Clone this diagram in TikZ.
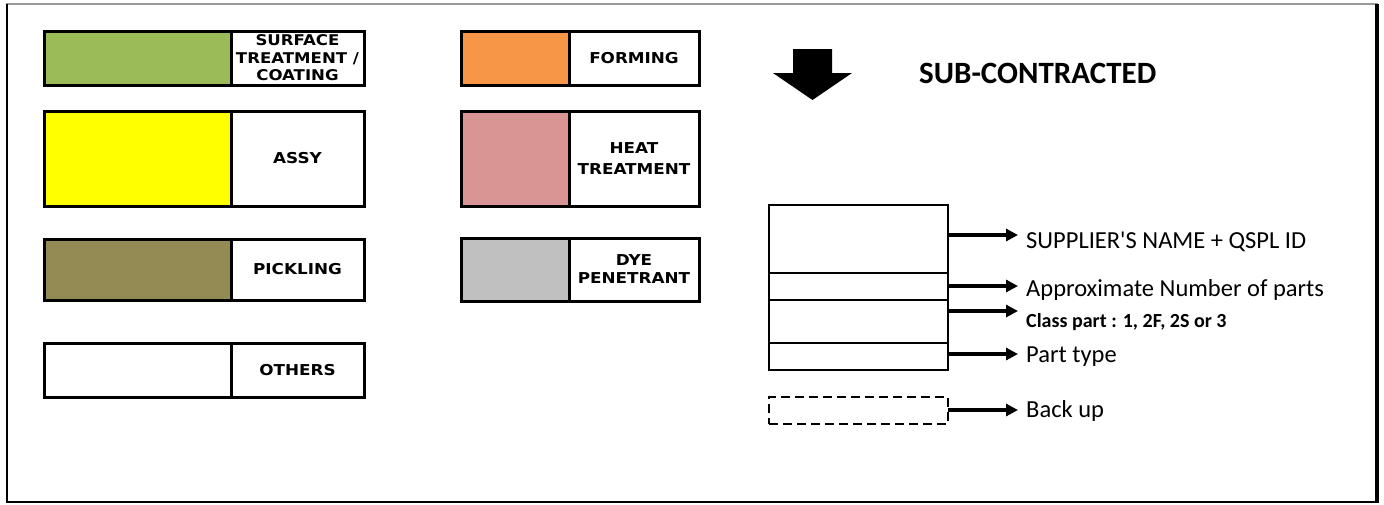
\documentclass[tikz,border=0pt]{standalone}
\usepackage{fontspec}
\setmainfont{Carlito}
\newfontfamily\legfont[FakeStretch=1.12]{DejaVu Sans}
\usetikzlibrary{arrows.meta,calc}
\definecolor{cgreen}{HTML}{9BBB59}
\definecolor{cyellow}{HTML}{FFFF00}
\definecolor{corange}{HTML}{F79646}
\definecolor{cpink}{HTML}{D99594}
\definecolor{colive}{HTML}{948A54}
\definecolor{cgray}{HTML}{C0C0C0}
\tikzset{
  swatch/.style={draw=black,line width=3pt,anchor=north west,inner sep=0pt,outer sep=0pt},
  legend/.style={draw=black,line width=3pt,anchor=north west,inner sep=0pt,outer sep=0pt,
    align=center,font=\legfont\bfseries\fontsize{15}{18}\selectfont},
  row/.style={draw=black,line width=2.8pt,anchor=north west,inner sep=0pt,outer sep=0pt,minimum width=179pt},
  conn/.style={line width=3.2pt,-{Triangle[length=12pt,width=12pt]}},
  lbl/.style={anchor=west,inner sep=0pt,font=\fontsize{24.5}{28}\selectfont},
}
\begin{document}
\begin{tikzpicture}[x=1pt,y=-1pt]
\useasboundingbox (0,0) rectangle (1384,504);
% frame
\draw[gray!80,line width=1.5pt] (6,4) -- (1378,4);
\draw[black,line width=2pt] (7,4) -- (7,502) -- (1377,502);
\draw[black,line width=3.5pt] (1377,4) -- (1377,503);
% left column
\node[swatch,fill=cgreen,minimum width=187pt,minimum height=54pt] (s1) at (44,31) {};
\node[legend,minimum width=133pt,minimum height=54pt,font=\legfont\bfseries\fontsize{14.8}{17.5}\selectfont] (l1) at (231,31) {SURFACE\\TREATMENT /\\COATING};
\node[swatch,fill=cyellow,minimum width=187pt,minimum height=95pt] (s2) at (44,111) {};
\node[legend,minimum width=133pt,minimum height=95pt] (l2) at (231,111) {ASSY};
\node[swatch,fill=colive,minimum width=187pt,minimum height=61pt] (s3) at (44,239) {};
\node[legend,minimum width=133pt,minimum height=61pt] (l3) at (231,239) {PICKLING};
\node[swatch,fill=white,minimum width=187pt,minimum height=54pt] (s4) at (44,343) {};
\node[legend,minimum width=133pt,minimum height=54pt] (l4) at (231,343) {OTHERS};
% middle column
\node[swatch,fill=corange,minimum width=108pt,minimum height=54pt] (s5) at (461,31) {};
\node[legend,minimum width=130pt,minimum height=54pt] (l5) at (569,31) {FORMING};
\node[swatch,fill=cpink,minimum width=108pt,minimum height=95pt] (s6) at (461,111) {};
\node[legend,minimum width=130pt,minimum height=95pt,font=\legfont\bfseries\fontsize{15}{21}\selectfont] (l6) at (569,111) {HEAT\\TREATMENT};
\node[swatch,fill=cgray,minimum width=108pt,minimum height=63pt] (s7) at (461,238) {};
\node[legend,minimum width=130pt,minimum height=63pt,font=\legfont\bfseries\fontsize{15}{18}\selectfont] (l7) at (569,238) {DYE\\PENETRANT};
% big arrow and title
\fill[black] (793,49) -- (832,49) -- (832,73) -- (852,73) -- (812.5,100) -- (773,73) -- (793,73) -- cycle;
\node[anchor=west,inner sep=0pt,font=\bfseries\fontsize{31}{34}\selectfont] (title) at (919,73) {SUB-CONTRACTED};
% stack
\node[row,minimum height=68pt] (r1) at (769,205) {};
\node[row,minimum height=27pt] (r2) at (769,273) {};
\node[row,minimum height=43pt] (r3) at (769,300) {};
\node[row,minimum height=27pt] (r4) at (769,343) {};
\node[row,dashed,dash pattern=on 9pt off 5pt,minimum height=27pt] (r5) at (769,397) {};
% arrow ends
\coordinate (t1) at (1018,235);
\coordinate (t2) at (1018,286);
\coordinate (t3) at (1018,311);
\coordinate (t4) at (1018,354);
\coordinate (t5) at (1018,410);
\draw[conn] (r1.east |- t1) -- (t1);
\draw[conn] (r2.east |- t2) -- (t2);
\draw[conn] (r3.east |- t3) -- (t3);
\draw[conn] (r4.east |- t4) -- (t4);
\draw[conn] (r5.east |- t5) -- (t5);
% labels
\node[lbl] (d1) at (1026,242) {SUPPLIER\textquotesingle S NAME + QSPL ID};
\node[lbl] (d2) at (1026,290) {Approximate Number of parts};
\node[lbl,font=\bfseries\fontsize{20}{23}\selectfont] (d3) at (1026,322) {Class part : 1, 2F, 2S or 3};
\node[lbl] (d4) at (1026,357) {Part type};
\node[lbl] (d5) at (1026,411) {Back up};
\end{tikzpicture}
\end{document}
